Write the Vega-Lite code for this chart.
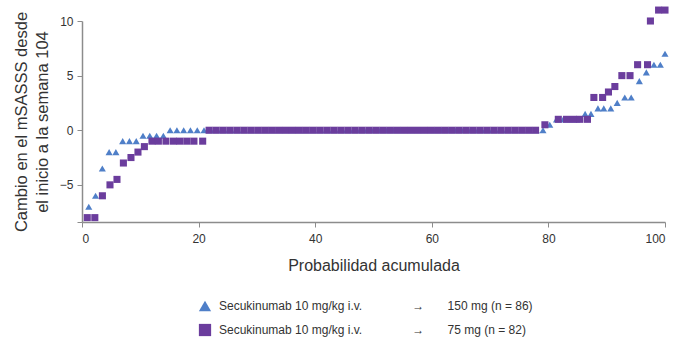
{
  "$schema": "https://vega.github.io/schema/vega-lite/v6.json",
  "autosize": {"type": "none"},
  "width": 583,
  "height": 201,
  "padding": {"left": 82, "top": 21, "right": 24, "bottom": 115},
  "background": "white",
  "config": {
    "view": {"stroke": null},
    "font": "Liberation Sans",
    "axis": {"grid": false, "domainColor": "#8c8c8c", "domainWidth": 1.5, "tickColor": "#8c8c8c", "tickSize": 5, "labelColor": "#333333", "labelFontSize": 12, "titleColor": "#333333", "titleFontWeight": "normal", "titleFontSize": 16, "labelFont": "Liberation Sans", "titleFont": "Liberation Sans"}
  },
  "data": {"values": [
    {"p": 1.163, "v": -7, "g": "A"},
    {"p": 2.326, "v": -6, "g": "A"},
    {"p": 3.488, "v": -3.5, "g": "A"},
    {"p": 4.651, "v": -2, "g": "A"},
    {"p": 5.814, "v": -2, "g": "A"},
    {"p": 6.977, "v": -1, "g": "A"},
    {"p": 8.14, "v": -1, "g": "A"},
    {"p": 9.302, "v": -1, "g": "A"},
    {"p": 10.465, "v": -0.5, "g": "A"},
    {"p": 11.628, "v": -0.5, "g": "A"},
    {"p": 12.791, "v": -0.5, "g": "A"},
    {"p": 13.953, "v": -0.5, "g": "A"},
    {"p": 15.12, "v": 0, "g": "A"}, {"p": 16.28, "v": 0, "g": "A"}, {"p": 17.44, "v": 0, "g": "A"}, {"p": 18.6, "v": 0, "g": "A"},
    {"p": 19.77, "v": 0, "g": "A"}, {"p": 20.93, "v": 0, "g": "A"}, {"p": 22.09, "v": 0, "g": "A"}, {"p": 23.26, "v": 0, "g": "A"},
    {"p": 24.42, "v": 0, "g": "A"}, {"p": 25.58, "v": 0, "g": "A"}, {"p": 26.74, "v": 0, "g": "A"}, {"p": 27.91, "v": 0, "g": "A"},
    {"p": 29.07, "v": 0, "g": "A"}, {"p": 30.23, "v": 0, "g": "A"}, {"p": 31.4, "v": 0, "g": "A"}, {"p": 32.56, "v": 0, "g": "A"},
    {"p": 33.72, "v": 0, "g": "A"}, {"p": 34.88, "v": 0, "g": "A"}, {"p": 36.05, "v": 0, "g": "A"}, {"p": 37.21, "v": 0, "g": "A"},
    {"p": 38.37, "v": 0, "g": "A"}, {"p": 39.53, "v": 0, "g": "A"}, {"p": 40.7, "v": 0, "g": "A"}, {"p": 41.86, "v": 0, "g": "A"},
    {"p": 43.02, "v": 0, "g": "A"}, {"p": 44.19, "v": 0, "g": "A"}, {"p": 45.35, "v": 0, "g": "A"}, {"p": 46.51, "v": 0, "g": "A"},
    {"p": 47.67, "v": 0, "g": "A"}, {"p": 48.84, "v": 0, "g": "A"}, {"p": 50.0, "v": 0, "g": "A"}, {"p": 51.16, "v": 0, "g": "A"},
    {"p": 52.33, "v": 0, "g": "A"}, {"p": 53.49, "v": 0, "g": "A"}, {"p": 54.65, "v": 0, "g": "A"}, {"p": 55.81, "v": 0, "g": "A"},
    {"p": 56.98, "v": 0, "g": "A"}, {"p": 58.14, "v": 0, "g": "A"}, {"p": 59.3, "v": 0, "g": "A"}, {"p": 60.47, "v": 0, "g": "A"},
    {"p": 61.63, "v": 0, "g": "A"}, {"p": 62.79, "v": 0, "g": "A"}, {"p": 63.95, "v": 0, "g": "A"}, {"p": 65.12, "v": 0, "g": "A"},
    {"p": 66.28, "v": 0, "g": "A"}, {"p": 67.44, "v": 0, "g": "A"}, {"p": 68.6, "v": 0, "g": "A"}, {"p": 69.77, "v": 0, "g": "A"},
    {"p": 70.93, "v": 0, "g": "A"}, {"p": 72.09, "v": 0, "g": "A"}, {"p": 73.26, "v": 0, "g": "A"}, {"p": 74.42, "v": 0, "g": "A"},
    {"p": 75.58, "v": 0, "g": "A"}, {"p": 76.74, "v": 0, "g": "A"}, {"p": 77.91, "v": 0, "g": "A"}, {"p": 79.07, "v": 0, "g": "A"},
    {"p": 80.233, "v": 0.5, "g": "A"},
    {"p": 81.395, "v": 1, "g": "A"},
    {"p": 82.558, "v": 1, "g": "A"},
    {"p": 83.721, "v": 1, "g": "A"},
    {"p": 84.884, "v": 1, "g": "A"},
    {"p": 86.3, "v": 1.5, "g": "A"},
    {"p": 87.3, "v": 1.5, "g": "A"},
    {"p": 88.5, "v": 2, "g": "A"},
    {"p": 89.5, "v": 2, "g": "A"},
    {"p": 90.7, "v": 2, "g": "A"},
    {"p": 91.8, "v": 2.5, "g": "A"},
    {"p": 93.1, "v": 3, "g": "A"},
    {"p": 94.2, "v": 3, "g": "A"},
    {"p": 95.6, "v": 4.5, "g": "A"},
    {"p": 96.8, "v": 5.3, "g": "A"},
    {"p": 98.1, "v": 6, "g": "A"},
    {"p": 99.2, "v": 6, "g": "A"},
    {"p": 100.0, "v": 7, "g": "A"},
    {"p": 0.9, "v": -8, "g": "B"},
    {"p": 2.2, "v": -8, "g": "B"},
    {"p": 3.5, "v": -6, "g": "B"},
    {"p": 4.8, "v": -5, "g": "B"},
    {"p": 6.0, "v": -4.5, "g": "B"},
    {"p": 7.1, "v": -3, "g": "B"},
    {"p": 8.4, "v": -2.5, "g": "B"},
    {"p": 9.6, "v": -2, "g": "B"},
    {"p": 10.7, "v": -1.5, "g": "B"},
    {"p": 12.0, "v": -1, "g": "B"},
    {"p": 13.1, "v": -1, "g": "B"},
    {"p": 14.4, "v": -1, "g": "B"},
    {"p": 15.7, "v": -1, "g": "B"},
    {"p": 16.8, "v": -1, "g": "B"},
    {"p": 18.0, "v": -1, "g": "B"},
    {"p": 19.2, "v": -1, "g": "B"},
    {"p": 20.7, "v": -1, "g": "B"},
    {"p": 21.8, "v": 0, "g": "B"}, {"p": 22.99, "v": 0, "g": "B"}, {"p": 24.18, "v": 0, "g": "B"}, {"p": 25.37, "v": 0, "g": "B"},
    {"p": 26.57, "v": 0, "g": "B"}, {"p": 27.76, "v": 0, "g": "B"}, {"p": 28.95, "v": 0, "g": "B"}, {"p": 30.14, "v": 0, "g": "B"},
    {"p": 31.33, "v": 0, "g": "B"}, {"p": 32.52, "v": 0, "g": "B"}, {"p": 33.72, "v": 0, "g": "B"}, {"p": 34.91, "v": 0, "g": "B"},
    {"p": 36.1, "v": 0, "g": "B"}, {"p": 37.29, "v": 0, "g": "B"}, {"p": 38.48, "v": 0, "g": "B"}, {"p": 39.67, "v": 0, "g": "B"},
    {"p": 40.86, "v": 0, "g": "B"}, {"p": 42.06, "v": 0, "g": "B"}, {"p": 43.25, "v": 0, "g": "B"}, {"p": 44.44, "v": 0, "g": "B"},
    {"p": 45.63, "v": 0, "g": "B"}, {"p": 46.82, "v": 0, "g": "B"}, {"p": 48.01, "v": 0, "g": "B"}, {"p": 49.21, "v": 0, "g": "B"},
    {"p": 50.4, "v": 0, "g": "B"}, {"p": 51.59, "v": 0, "g": "B"}, {"p": 52.78, "v": 0, "g": "B"}, {"p": 53.97, "v": 0, "g": "B"},
    {"p": 55.16, "v": 0, "g": "B"}, {"p": 56.35, "v": 0, "g": "B"}, {"p": 57.55, "v": 0, "g": "B"}, {"p": 58.74, "v": 0, "g": "B"},
    {"p": 59.93, "v": 0, "g": "B"}, {"p": 61.12, "v": 0, "g": "B"}, {"p": 62.31, "v": 0, "g": "B"}, {"p": 63.5, "v": 0, "g": "B"},
    {"p": 64.69, "v": 0, "g": "B"}, {"p": 65.89, "v": 0, "g": "B"}, {"p": 67.08, "v": 0, "g": "B"}, {"p": 68.27, "v": 0, "g": "B"},
    {"p": 69.46, "v": 0, "g": "B"}, {"p": 70.65, "v": 0, "g": "B"}, {"p": 71.84, "v": 0, "g": "B"}, {"p": 73.04, "v": 0, "g": "B"},
    {"p": 74.23, "v": 0, "g": "B"}, {"p": 75.42, "v": 0, "g": "B"}, {"p": 76.61, "v": 0, "g": "B"}, {"p": 77.8, "v": 0, "g": "B"},
    {"p": 79.4, "v": 0.5, "g": "B"},
    {"p": 81.7, "v": 1, "g": "B"},
    {"p": 83.1, "v": 1, "g": "B"},
    {"p": 84.3, "v": 1, "g": "B"},
    {"p": 85.4, "v": 1, "g": "B"},
    {"p": 86.7, "v": 1, "g": "B"},
    {"p": 87.8, "v": 3, "g": "B"},
    {"p": 89.3, "v": 3, "g": "B"},
    {"p": 90.3, "v": 3.5, "g": "B"},
    {"p": 91.4, "v": 4, "g": "B"},
    {"p": 92.6, "v": 5, "g": "B"},
    {"p": 94.0, "v": 5, "g": "B"},
    {"p": 95.3, "v": 6, "g": "B"},
    {"p": 97.0, "v": 6, "g": "B"},
    {"p": 97.5, "v": 10, "g": "B"},
    {"p": 98.9, "v": 11, "g": "B"},
    {"p": 100.0, "v": 11, "g": "B"}
  ]},
  "mark": {"type": "point", "filled": true, "opacity": 1, "size": 50},
  "encoding": {
    "x": {"field": "p", "type": "quantitative", "scale": {"domain": [0, 100], "nice": false, "zero": false},
      "axis": {"values": [0, 20, 40, 60, 80, 100], "title": "Probabilidad acumulada", "titlePadding": 13, "labelPadding": 6}},
    "y": {"field": "v", "type": "quantitative", "scale": {"domain": [-8.4, 10], "nice": false, "zero": false},
      "axis": {"values": [-8.4, -5, 0, 5, 10], "labelExpr": "datum.value < -8 ? '' : (datum.value < 0 ? '\u2212' + abs(datum.value) : datum.label)", "title": ["Cambio en el mSASSS desde", "el inicio a la semana 104"], "titleFontSize": 16.5, "titlePadding": 9, "titleLineHeight": 21, "labelPadding": 4}},
    "color": {"field": "g", "type": "nominal", "scale": {"domain": ["A", "B"], "range": ["#4f7fc8", "#6b3d9d"]},
      "legend": {"orient": "none", "legendX": 116, "legendY": 278, "direction": "vertical", "title": null,
        "labelExpr": "datum.value == 'A' ? 'Secukinumab 10 mg/kg i.v.\u00a0\u00a0\u00a0\u00a0\u00a0\u00a0\u00a0\u00a0\u00a0\u00a0\u00a0\u00a0\u00a0\u00a0\u00a0\u2192\u00a0\u00a0\u00a0\u00a0\u00a0\u00a0\u00a0150 mg (n = 86)' : 'Secukinumab 10 mg/kg i.v.\u00a0\u00a0\u00a0\u00a0\u00a0\u00a0\u00a0\u00a0\u00a0\u00a0\u00a0\u00a0\u00a0\u00a0\u00a0\u2192\u00a0\u00a0\u00a0\u00a0\u00a0\u00a0\u00a075 mg (n = 82)'",
        "labelFontSize": 12, "labelColor": "#333333", "labelLimit": 0, "symbolSize": 150, "rowPadding": 11, "labelOffset": 7}},
    "shape": {"field": "g", "type": "nominal", "scale": {"domain": ["A", "B"], "range": ["triangle-up", "square"]}}
  }
}
